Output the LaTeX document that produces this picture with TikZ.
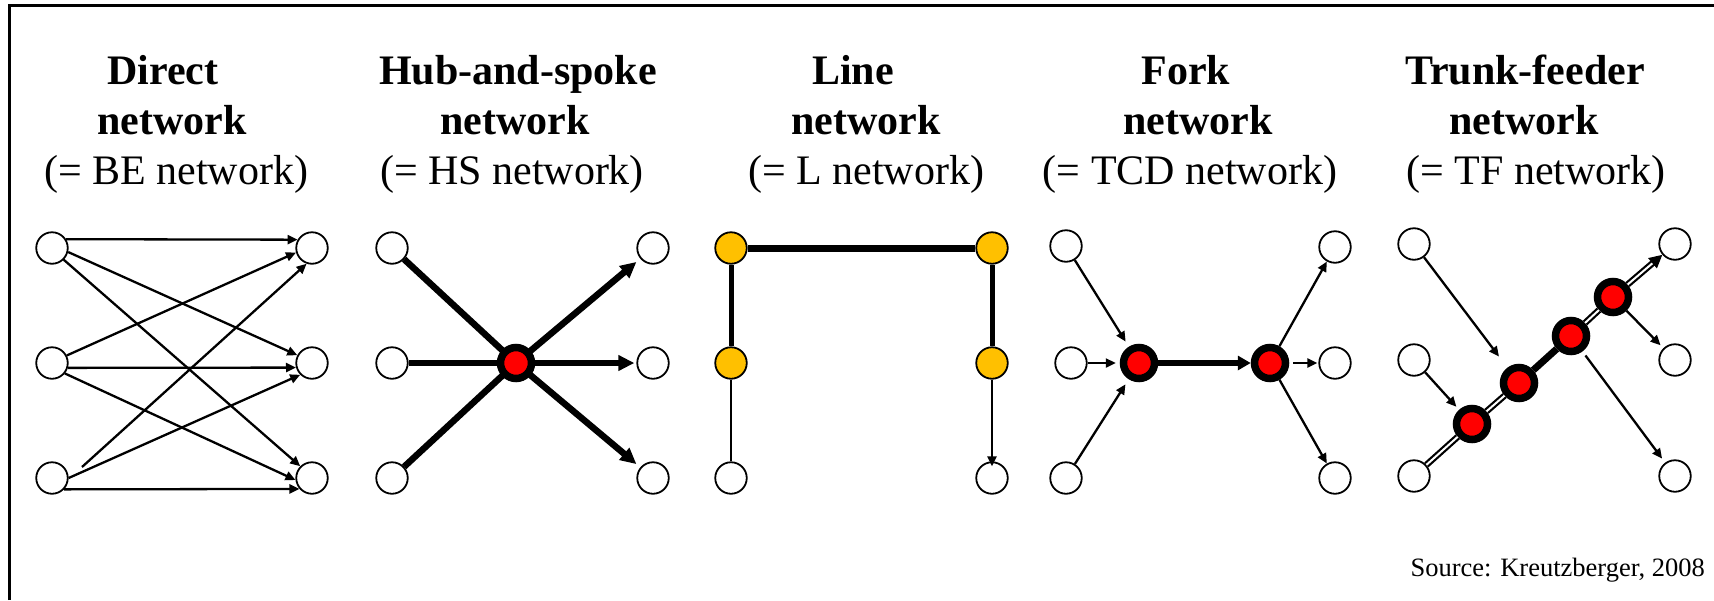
\documentclass[tikz,border=0pt]{standalone}
\usepackage{fontspec}
\setmainfont{Liberation Serif}
\usetikzlibrary{arrows.meta,calc}
\definecolor{stopyellow}{HTML}{FFC000}
\begin{document}
\begin{tikzpicture}[x=1pt,y=-1pt,
  nd/.style={circle,draw,fill=white,line width=1.8pt,minimum size=31.5pt,inner sep=0pt},
  ystop/.style={nd,fill=stopyellow},
  hub/.style={circle,draw,fill=red,line width=7.5pt,minimum size=31pt,inner sep=0pt},
  thin/.style={line width=2.3pt,-{Triangle[length=10pt,width=9pt]}},
  thick/.style={line width=6.5pt,-{Triangle[length=16pt,width=15pt]}},
  spoke/.style={line width=6.5pt},
  trunk/.style={line width=2.2pt,double=white,double distance=2pt},
  ttl/.style={anchor=base,font=\fontsize{42}{50}\selectfont\bfseries,inner sep=0pt},
  sub/.style={anchor=base,font=\fontsize{42}{50}\selectfont,inner sep=0pt}]
\useasboundingbox (0,0) rectangle (1714,600);
\draw[line width=2.2pt] (9.5,600) -- (9.5,5.5) -- (1714,5.5);

% titles
\node[ttl] (d1) at (163,84) {Direct};
\node[ttl] (d2) at (172,134) {network};
\node[sub] (d3) at (176,184) {(= BE network)};
\node[ttl] (e1) at (518,84) {Hub-and-spoke};
\node[ttl] (e2) at (515,134) {network};
\node[sub] (e3) at (512,184) {(= HS network)};
\node[ttl] (l1) at (853,84) {Line};
\node[ttl] (l2) at (866,134) {network};
\node[sub] (l3) at (866,184) {(= L network)};
\node[ttl] (o1) at (1186,84) {Fork};
\node[ttl] (o2) at (1198,134) {network};
\node[sub] (o3) at (1190,184) {(= TCD network)};
\node[ttl] (p1) at (1525,84) {Trunk-feeder};
\node[ttl] (p2) at (1524,134) {network};
\node[sub] (p3) at (1536,184) {(= TF network)};
\node[anchor=base east,inner sep=0pt,font=\fontsize{26.5}{30}\selectfont] (src) at (1705,576) {Source: Kreutzberger, 2008};

% direct network
\node[nd] (L1) at (52,248) {};
\node[nd] (L2) at (52,363) {};
\node[nd] (L3) at (52,478) {};
\node[nd] (R1) at (312,248) {};
\node[nd] (R2) at (312,363) {};
\node[nd] (R3) at (312,478) {};
\draw[thin] (L1.32) -- (R1.150);
\draw[thin] (L1.-14) -- (R2.152);
\draw[thin] (L1.-45) -- (R3.135);
\draw[thin] (L2.27) -- (R1.196);
\draw[thin] (L2.-17) -- (R2.196);
\draw[thin] (L2.-39) -- (R3.187);
\draw[thin] ($(L3)+(30,-11)$) -- (R1.251);
\draw[thin] (L3.0) -- (R2.225);
\draw[thin] (L3.-43) -- (R3.221);

% hub-and-spoke network
\node[nd] (a1) at (392,248) {};
\node[nd] (a2) at (392,363) {};
\node[nd] (a3) at (392,478) {};
\node[nd] (b1) at (653,248) {};
\node[nd] (b2) at (653,363) {};
\node[nd] (b3) at (653,478) {};
\draw[spoke] (a1) -- (516,363) coordinate (hc);
\draw[spoke] (a2) -- (hc);
\draw[spoke] (a3) -- (hc);
\draw[thick,shorten >=5pt] (hc) -- (b1);
\draw[thick,shorten >=2pt] (hc) -- (b2);
\draw[thick,shorten >=5pt] (hc) -- (b3);
\node[hub] (hb) at (hc) {};

% line network
\node[ystop] (y1) at (731,248) {};
\node[ystop] (y2) at (992,248) {};
\node[ystop] (y3) at (731,363) {};
\node[ystop] (y4) at (992,363) {};
\node[nd] (w1) at (731,478) {};
\node[nd] (w2) at (992,478) {};
\draw[line width=7pt] (y1) -- (y2);
\draw[line width=5pt] (y1) -- (y3);
\draw[line width=5pt] (y2) -- (y4);
\draw[line width=2.3pt] (y3) -- (w1);
\draw[thin,shorten >=-5pt] (y4) -- (w2);

% fork network
\node[nd] (f1) at (1066,246) {};
\node[nd] (f2) at (1071,363) {};
\node[nd] (f3) at (1066,478) {};
\node[hub] (h1) at (1139,363) {};
\node[hub] (h2) at (1270,363) {};
\node[nd] (g1) at (1335,247) {};
\node[nd] (g2) at (1335,363) {};
\node[nd] (g3) at (1335,478) {};
\draw[thin,shorten >=6pt] (f1) -- (h1);
\draw[thin,shorten >=4pt] (f2) -- (h1);
\draw[thin,shorten >=6pt] (f3) -- (h1);
\draw[line width=6.5pt,-{Triangle[length=13pt,width=14pt]}] (h1) -- (h2);
\draw[thin] (h2) -- (g1);
\draw[thin,shorten <=4pt,shorten >=1pt] (h2) -- (g2);
\draw[thin] (h2) -- (g3);

% trunk-feeder network
\node[nd] (t1) at (1414,244) {};
\node[nd] (t2) at (1414,360) {};
\node[nd] (t3) at (1414,476) {};
\node[nd] (s1) at (1675,244) {};
\node[nd] (s2) at (1675,360) {};
\node[nd] (s3) at (1675,476) {};
\node[hub] (k1) at (1472,424) {};
\node[hub] (k2) at (1519,383) {};
\node[hub] (k3) at (1571,336) {};
\node[hub] (k4) at (1613,297) {};
\draw[trunk] (t3) -- (k1);
\draw[trunk] (k1) -- (k2);
\draw[line width=7pt] (k2) -- (k3);
\draw[trunk] (k3) -- (k4);
\draw[trunk,-{Triangle[length=13pt,width=13pt]}] (k4) -- (s1);
\draw[thin,shorten >=14pt] (t1) -- (k2);
\draw[thin,shorten >=4pt] (t2) -- (k1);
\draw[thin,shorten >=4pt] (k4) -- (s2);
\draw[thin,shorten <=5pt,shorten >=5pt] (k3) -- (s3);
\end{tikzpicture}
\end{document}
